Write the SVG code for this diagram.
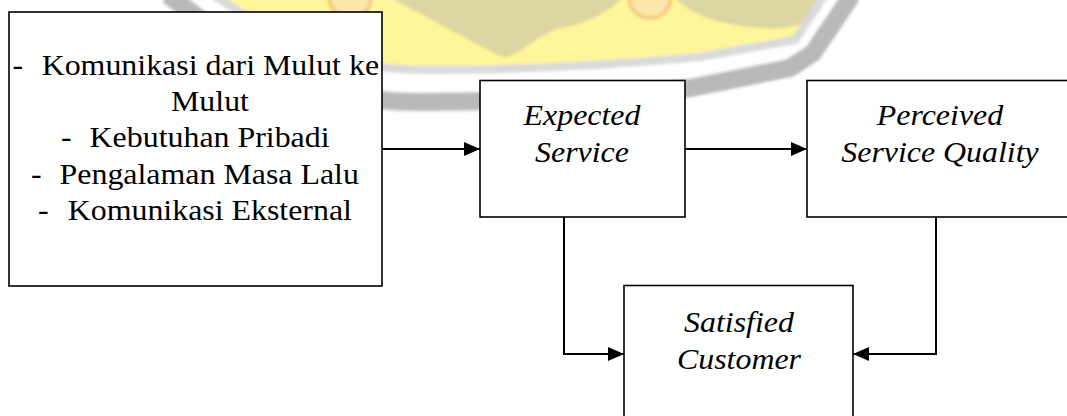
<svg xmlns="http://www.w3.org/2000/svg" width="1067" height="416" viewBox="0 0 1067 416">
  <style>
    .box { fill: #ffffff; stroke: #000000; stroke-width: 1.6; }
    .lbl { font-family: "Liberation Serif", "Times New Roman", Times, serif; font-size: 29px; fill: #000000; }
    .it { font-style: italic; text-anchor: middle; }
    .wire { fill: none; stroke: #000000; stroke-width: 2; }
  </style>
  <defs>
    <marker id="head" markerUnits="userSpaceOnUse" markerWidth="16" markerHeight="14" refX="16" refY="7" orient="auto">
      <path d="M0,0 L16,7 L0,14 Z" fill="#000000"/>
    </marker>
    <filter id="soft" x="-5%" y="-20%" width="110%" height="140%">
      <feGaussianBlur stdDeviation="1.6"/>
    </filter>
  </defs>

  <rect width="1067" height="416" fill="#ffffff"/>

  <!-- faded emblem in the background -->
  <g id="emblem" filter="url(#soft)">
    <path d="M213,-5 L300,50 Q360,70 430,70 Q560,70 700,57 L795,40 L825,-5 Z" fill="#fff59a"/>
    <path d="M385,-5 C430,18 470,42 505,58 C525,52 540,32 565,27 C590,22 610,12 625,-5 Z" fill="#dcd6a2"/>
    <path d="M672,-5 C690,15 720,25 760,28 C785,30 800,26 810,18 L822,-5 Z" fill="#dcd6a2"/>
    <circle cx="350" cy="-3" r="21" fill="#fbe8aa" stroke="#f3cb80" stroke-width="4"/>
    <circle cx="650" cy="-3" r="21" fill="#fbe8aa" stroke="#f3cb80" stroke-width="4"/>
    <path d="M213,-5 L300,50 Q360,70 430,70 Q560,70 700,57 L795,40 L825,-5" fill="none" stroke="#dadada" stroke-width="8"/>
    <path d="M168,-5 L272,72 Q330,102 420,102 Q560,102 690,88 L790,68 L813,53 L852,-5" fill="none" stroke="#b9b9b9" stroke-width="18"/>
  </g>

  <g id="antecedents">
    <rect class="box" x="9" y="12" width="373" height="274"/>
    <text class="lbl" transform="translate(12.5,74.5) scale(1.1,1)">-<tspan x="26.5">Komunikasi dari Mulut ke</tspan></text>
    <text class="lbl" transform="translate(210,110.5) scale(1.1,1)" text-anchor="middle">Mulut</text>
    <text class="lbl" transform="translate(61,147) scale(1.1,1)">-<tspan x="26">Kebutuhan Pribadi</tspan></text>
    <text class="lbl" transform="translate(31,183.5) scale(1.1,1)">-<tspan x="26">Pengalaman Masa Lalu</tspan></text>
    <text class="lbl" transform="translate(38,220) scale(1.1,1)">-<tspan x="27">Komunikasi Eksternal</tspan></text>
  </g>

  <g id="expected-service">
    <rect class="box" x="480" y="80.5" width="205" height="136.5"/>
    <text class="lbl it" transform="translate(582,125) scale(1.1,1)">Expected</text>
    <text class="lbl it" transform="translate(582,162) scale(1.1,1)">Service</text>
  </g>

  <g id="perceived-service-quality">
    <rect class="box" x="807" y="80.5" width="275" height="136.5"/>
    <text class="lbl it" transform="translate(940,125) scale(1.1,1)">Perceived</text>
    <text class="lbl it" transform="translate(940,162) scale(1.1,1)">Service Quality</text>
  </g>

  <g id="satisfied-customer">
    <rect class="box" x="624" y="285.5" width="229" height="150"/>
    <text class="lbl it" transform="translate(739,332) scale(1.1,1)">Satisfied</text>
    <text class="lbl it" transform="translate(739,368.5) scale(1.1,1)">Customer</text>
  </g>

  <g id="connectors">
    <path class="wire" d="M382,149 L480,149" marker-end="url(#head)"/>
    <path class="wire" d="M685,149 L807,149" marker-end="url(#head)"/>
    <path class="wire" d="M564,217 L564,354 L624,354" marker-end="url(#head)"/>
    <path class="wire" d="M936,217 L936,354 L853,354" marker-end="url(#head)"/>
  </g>
</svg>
